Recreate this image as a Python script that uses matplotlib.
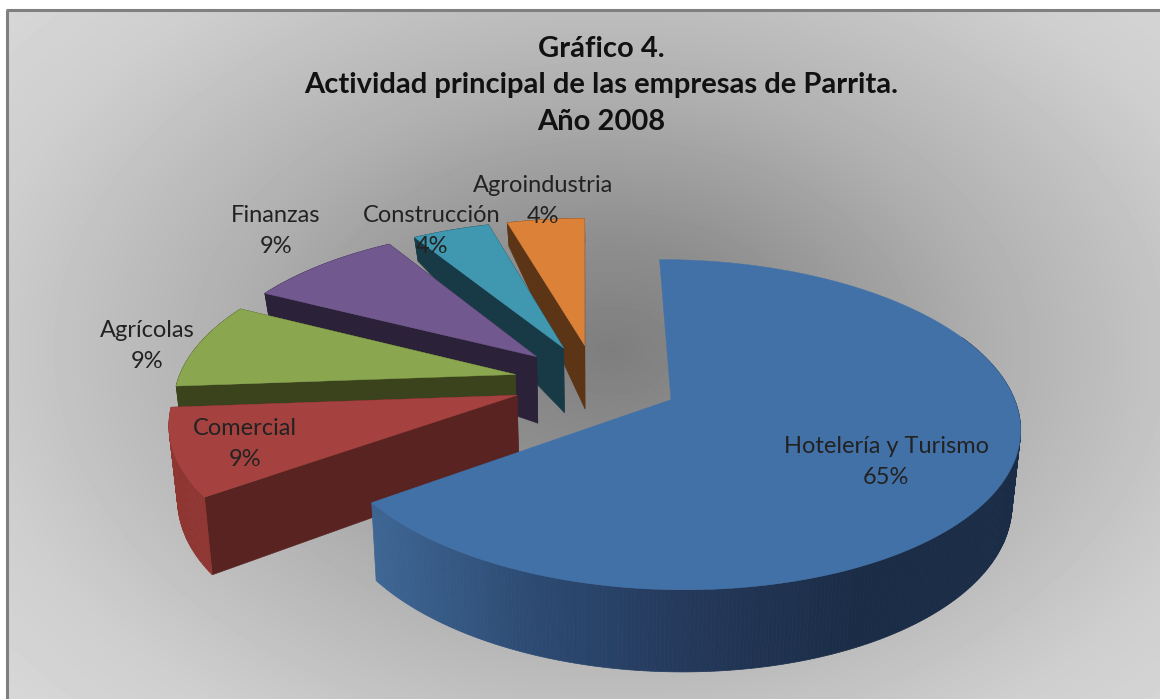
import numpy as np
import matplotlib
matplotlib.use("Agg")
import matplotlib.pyplot as plt
from matplotlib.colors import LinearSegmentedColormap

categories = ["Hotelería y Turismo", "Comercial", "Agrícolas", "Finanzas", "Construcción", "Agroindustria"]
percent = [65.2, 8.7, 8.7, 8.7, 4.35, 4.35]
top_colors = ["#4271a8", "#a5423f", "#8aa64f", "#71588f", "#4097b0", "#db8138"]
radial_wall = ["#24385a", "#582320", "#3a431c", "#2b2138", "#183a47", "#5c3517"]
arc_wall = ["#24385a", "#8f3633", "#3a431c", "#2b2138", "#183a47", "#5c3517"]
label_pos = [(886, 462), (245, 444), (147, 346), (276, 231), (432, 231), (543, 201)]

START = -0.3
EXPLODE = 0.245
CX, CY = 596, 382
SX, SY, PERSP = 338, 156, 0.149
DV = [-1.3, -0.5, 0.2, 0.6, 0.9, 1.4]
DH = [84, 76, 66, 40, 24, 24]
SHRINK = 0.02

plt.rcParams["font.family"] = ["Lato", "DejaVu Sans"]
fig = plt.figure(figsize=(11.6, 6.99), dpi=100, facecolor="white")
ax = fig.add_axes([0, 0, 1, 1])
ax.set_xlim(0, 1160)
ax.set_ylim(699, 0)
ax.axis("off")

# background
X, Y = np.meshgrid(np.arange(8, 1160), np.arange(11, 699))
t = np.sqrt(((X - 610) / 640.0) ** 2 + ((Y - 350) / 440.0) ** 2)
grad = np.interp(t, [0, 0.25, 0.6, 1.0, 1.3], [0x7e, 0x8e, 0xb0, 0xce, 0xda])
cm = LinearSegmentedColormap.from_list("g", ["black", "white"])
ax.imshow(grad / 255.0, extent=(8, 1160, 699, 11), cmap=cm, vmin=0, vmax=1, aspect="auto", zorder=0)
ax.set_xlim(0, 1160)
ax.set_ylim(699, 0)
ax.plot([7, 7], [699, 10], color="#808080", lw=2.2, zorder=1, solid_capstyle="butt")
ax.plot([6, 1160], [10, 10], color="#808080", lw=2.2, zorder=1, solid_capstyle="butt")


def project(u, v):
    w = 1 + PERSP * v
    return CX + SX * u / w, CY - SY * v / w


def depth(v):
    return np.interp(v, DV, DH)


def lower(x):
    return CX + (x - CX) * (1 - SHRINK)


edges = START + np.concatenate([[0], np.cumsum(percent)]) * 3.6
z = 2
side_cm = LinearSegmentedColormap.from_list("s", ["#3e6694", "#2c4a72", "#24385a", "#1a2c46", "#1a2c46"])

for i in [5, 4, 3, 2, 1, 0]:
    a0, a1 = np.radians(edges[i]), np.radians(edges[i + 1])
    mid = (a0 + a1) / 2
    au, av = EXPLODE * np.sin(mid), EXPLODE * np.cos(mid)
    ang = np.linspace(a0, a1, max(int(percent[i] * 6), 30))
    ru, rv = au + np.sin(ang), av + np.cos(ang)
    rx, ry = project(ru, rv)
    ax_, ay_ = project(au, av)
    da = depth(av)
    dr = depth(rv)
    # radial walls
    if i != 0:
        for j in (0, -1):
            ax.fill([ax_, rx[j], lower(rx[j]), lower(ax_)], [ay_, ry[j], ry[j] + dr[j], ay_ + da],
                    color=radial_wall[i], lw=0.4, zorder=z)
    z += 1
    # outer wall
    for k in range(len(ang) - 1):
        if i == 0:
            if rv[k] > 0.3:
                continue
            col = side_cm(np.clip((rx[k] - 374) / (1021 - 374), 0, 1))
        else:
            col = arc_wall[i]
        ax.fill([rx[k], rx[k + 1], lower(rx[k + 1]), lower(rx[k])],
                [ry[k], ry[k + 1], ry[k + 1] + dr[k + 1], ry[k] + dr[k]],
                color=col, lw=0.5, zorder=z)
    z += 1
    ax.fill(np.r_[ax_, rx], np.r_[ay_, ry], color=top_colors[i], lw=0.3, zorder=z)
    z += 1

for name, p, (lx, ly) in zip(categories, percent, label_pos):
    ax.text(lx, ly, f"{name}\n{p:.0f}%", ha="center", va="center", fontsize=17,
            color="#222222", linespacing=1.6, zorder=50)

ax.text(601, 85.5, "Gráfico 4.\nActividad principal de las empresas de Parrita.\nAño 2008",
        ha="center", va="center", fontsize=21, fontweight="bold", color="#111111",
        linespacing=1.5, zorder=50)

fig.savefig("out.png", dpi=100)
